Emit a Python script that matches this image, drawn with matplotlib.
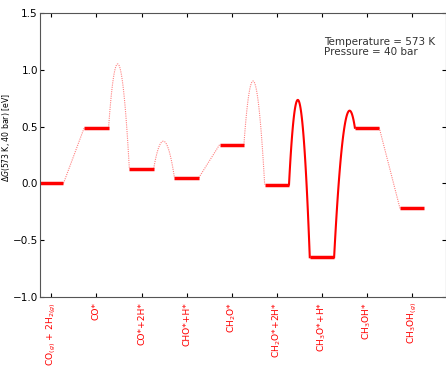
import numpy as np
import matplotlib
matplotlib.use('Agg')
import matplotlib.pyplot as plt

# Energias de los estados (eV)
states = ['CO$_{(g)}$ + 2H$_{2(g)}$', 'CO*', 'CO*+2H*', 'CHO*+H*', 'CH$_2$O*',
          'CH$_2$O*+2H*', 'CH$_3$O*+H*', 'CH$_3$OH*', 'CH$_3$OH$_{(g)}$']
energies = [0.0, 0.49, 0.13, 0.05, 0.34, -0.01, -0.65, 0.49, -0.22]
# Energia del estado de transicion entre cada par (None = sin barrera)
ts_energies = [None, 1.04, 0.37, None, 0.89, 0.71, 0.50, None]
# Barreras dibujadas con linea continua (calculadas) o punteada (estimadas)
ts_solid = [False, False, False, False, False, True, True, False]

half = 0.27

fig = plt.figure(figsize=(4.46, 3.67), dpi=100)
ax = fig.add_axes([0.0897, 0.1907, 0.9103, 0.774])

for i, e in enumerate(energies):
    ax.plot([i - half, i + half], [e, e], color='red', lw=2.5, solid_capstyle='butt')

for i, ts in enumerate(ts_energies):
    x0, x1 = i + half, i + 1 - half
    e0, e1 = energies[i], energies[i + 1]
    if ts is None:
        xs, ys = [x0, x1], [e0, e1]
    else:
        xm = (x0 + x1) / 2
        coef = np.polyfit([x0, xm, x1], [e0, ts, e1], 2)
        xs = np.linspace(x0, x1, 100)
        ys = np.polyval(coef, xs)
    if ts_solid[i]:
        ax.plot(xs, ys, color='red', lw=1.5)
    else:
        ax.plot(xs, ys, color='red', lw=0.8, ls=(0, (1, 1)), alpha=0.5)

ax.set_xlim(-0.25, 8.75)
ax.set_ylim(-1.0, 1.5)
ax.tick_params(direction='in', top=True, right=True, length=3)
ax.tick_params(axis='y', labelsize=7.5, pad=1.5)
ax.tick_params(axis='x', pad=3.5)
ax.set_xticks(range(len(states)))
ax.set_xticklabels(states, rotation=90, color='red', fontsize=6.6)
ax.set_yticks([-1.0, -0.5, 0.0, 0.5, 1.0, 1.5])
for s in ax.spines.values():
    s.set_color('#555555')
ax.set_ylabel(r'$\Delta G$(573 K, 40 bar) [eV]', fontsize=5.6)
ax.yaxis.set_label_coords(-0.07, 0.56)

ax.text(0.7, 0.88, 'Temperature = 573 K\nPressure = 40 bar', transform=ax.transAxes,
        fontsize=7.5, va='center', linespacing=1.1, color='#333333')

fig.savefig('out.png', dpi=100)
